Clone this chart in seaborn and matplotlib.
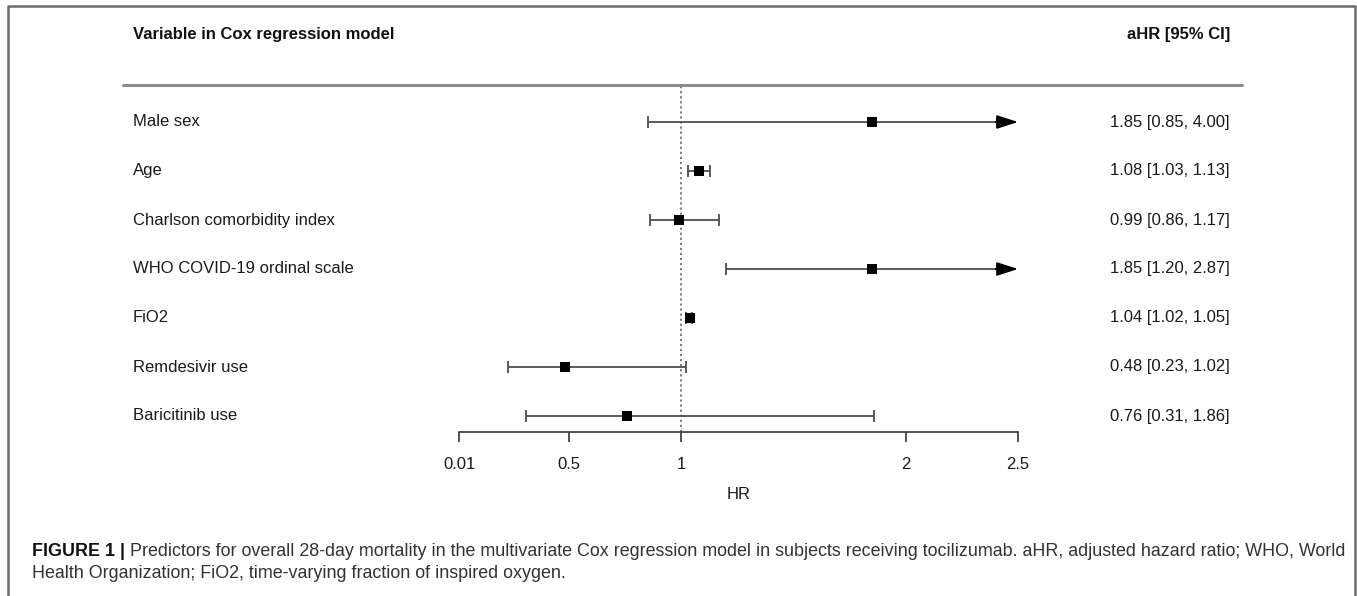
import matplotlib
matplotlib.use("Agg")
import matplotlib.pyplot as plt
import seaborn as sns
import pandas as pd
from matplotlib.lines import Line2D

variables = ["Male sex", "Age", "Charlson comorbidity index", "WHO COVID-19 ordinal scale",
             "FiO2", "Remdesivir use", "Baricitinib use"]
hr = [1.85, 1.08, 0.99, 1.85, 1.04, 0.48, 0.76]
lo = [0.85, 1.03, 0.86, 1.20, 1.02, 0.23, 0.31]
hi = [4.00, 1.13, 1.17, 2.87, 1.05, 1.02, 1.86]
tick_values = [0.01, 0.5, 1, 2, 2.5]
tick_labels = ["0.01", "0.5", "1", "2", "2.5"]
header_left = "Variable in Cox regression model"
header_right = "aHR [95% CI]"
xlabel = "HR"
caption_bold = "FIGURE 1 |"
caption_line1 = "Predictors for overall 28-day mortality in the multivariate Cox regression model in subjects receiving tocilizumab. aHR, adjusted hazard ratio; WHO, World"
caption_line2 = "Health Organization; FiO2, time-varying fraction of inspired oxygen."

sns.set_theme(style="white")
FONT = ["Liberation Sans", "DejaVu Sans"]
plt.rcParams["font.family"] = FONT

W, H = 1357, 596
fig = plt.figure(figsize=(W / 100, H / 100), dpi=100)

def fx(px):
    return px / W

def fy(py):
    return 1 - py / H

TEXT = "#1a1a1a"
LINE = "#4d4d4d"
FS = 12

# axes: HR 0.01 at x=459, 2.5 at x=1018, top y=85, axis line y=432
ax_top, ax_bot = 85, 432
ax = fig.add_axes([fx(459), fy(ax_bot), fx(1018) - fx(459), (ax_bot - ax_top) / H])
row_top, row_step = 122, 49
ax.set_xlim(0.01, 2.5)
ax.set_ylim((ax_bot - row_top) / row_step, -(row_top - ax_top) / row_step)

df = pd.DataFrame({"variable": variables, "hr": hr, "lo": lo, "hi": hi})
df["row"] = range(len(df))
xmax = tick_values[-1]

ax.axvline(1, color="#7a7a7a", ls=(0, (1.1, 1.5)), lw=1.4, zorder=1)

for _, r in df.iterrows():
    if r["hi"] > xmax:
        ax.plot([r["lo"]], [r["row"]], marker="|", ms=8, mew=1.3, color=LINE, clip_on=False)
        ax.plot([r["lo"], xmax - 0.05], [r["row"]] * 2, color=LINE, lw=1.3)
        ax.annotate("", xy=(xmax, r["row"]), xytext=(xmax - 0.1, r["row"]),
                    arrowprops=dict(arrowstyle="-|>,head_length=1.3,head_width=0.42",
                                    mutation_scale=10, color="black", lw=1.3,
                                    shrinkA=0, shrinkB=0),
                    annotation_clip=False)
    else:
        ax.errorbar([r["hr"]], [r["row"]],
                    xerr=[[r["hr"] - r["lo"]], [r["hi"] - r["hr"]]],
                    fmt="none", ecolor=LINE, elinewidth=1.3, capsize=4, capthick=1.3,
                    clip_on=False)

sns.scatterplot(data=df, x="hr", y="row", marker="s", s=50, color="black",
                linewidth=0, ax=ax, zorder=5, clip_on=False, legend=False)

for sp in ["top", "right", "left"]:
    ax.spines[sp].set_visible(False)
ax.spines["bottom"].set_color("#444444")
ax.spines["bottom"].set_linewidth(1.3)
ax.set_yticks([])
ax.set_xticks(tick_values)
ax.set_xticklabels(tick_labels, fontsize=FS, color=TEXT)
ax.tick_params(axis="x", direction="out", length=7.5, width=1.3, color="#444444",
               pad=10.5, bottom=True)
ax.set_xlabel(xlabel, fontsize=FS, color=TEXT, labelpad=11)
ax.set_ylabel("")
ax.patch.set_alpha(0)

# row labels and values
for i, r in df.iterrows():
    y = fy(row_top + row_step * i)
    fig.text(fx(133), y, r["variable"], ha="left", va="center", fontsize=FS, color=TEXT)
    fig.text(fx(1230), y, f"{r['hr']:.2f} [{r['lo']:.2f}, {r['hi']:.2f}]",
             ha="right", va="center", fontsize=FS, color=TEXT)

# headers
fig.text(fx(133), fy(35), header_left, ha="left", va="center", fontsize=FS,
         fontweight="bold", color="#111111")
fig.text(fx(1230), fy(35), header_right, ha="right", va="center", fontsize=FS,
         fontweight="bold", color="#111111")
fig.add_artist(Line2D([fx(123), fx(1242)], [fy(85), fy(85)], color="#8c8c8c", lw=2.2))

# border (open at bottom)
fig.add_artist(Line2D([fx(8), fx(8), fx(1355), fx(1355)], [fy(600), fy(6), fy(6), fy(600)],
                      color="#6b6b6b", lw=1.8))

# caption, sized so the first line spans the frame width
fig.canvas.draw()
renderer = fig.canvas.get_renderer()
cap_fs = 11
cap_y1, cap_y2, cap_x0, cap_x1 = 552, 573, 32, 1340
tb = fig.text(fx(cap_x0), fy(cap_y1), caption_bold, ha="left", va="center", fontsize=cap_fs,
              fontweight="bold", color="#111111")
t1 = fig.text(0, fy(cap_y1), caption_line1, ha="left", va="center", fontsize=cap_fs,
              color="#333333")
b0 = tb.get_window_extent(renderer=renderer)
b1 = t1.get_window_extent(renderer=renderer)
gap = 5
total = (b0.x1 - b0.x0) + gap + (b1.x1 - b1.x0)
cap_fs = cap_fs * (cap_x1 - cap_x0) / total
tb.set_fontsize(cap_fs)
t1.set_fontsize(cap_fs)
b0 = tb.get_window_extent(renderer=renderer)
t1.set_x((b0.x1 + gap) / W)
fig.text(fx(cap_x0), fy(cap_y2), caption_line2, ha="left", va="center", fontsize=cap_fs,
         color="#333333")

fig.savefig("out.png", dpi=100)
